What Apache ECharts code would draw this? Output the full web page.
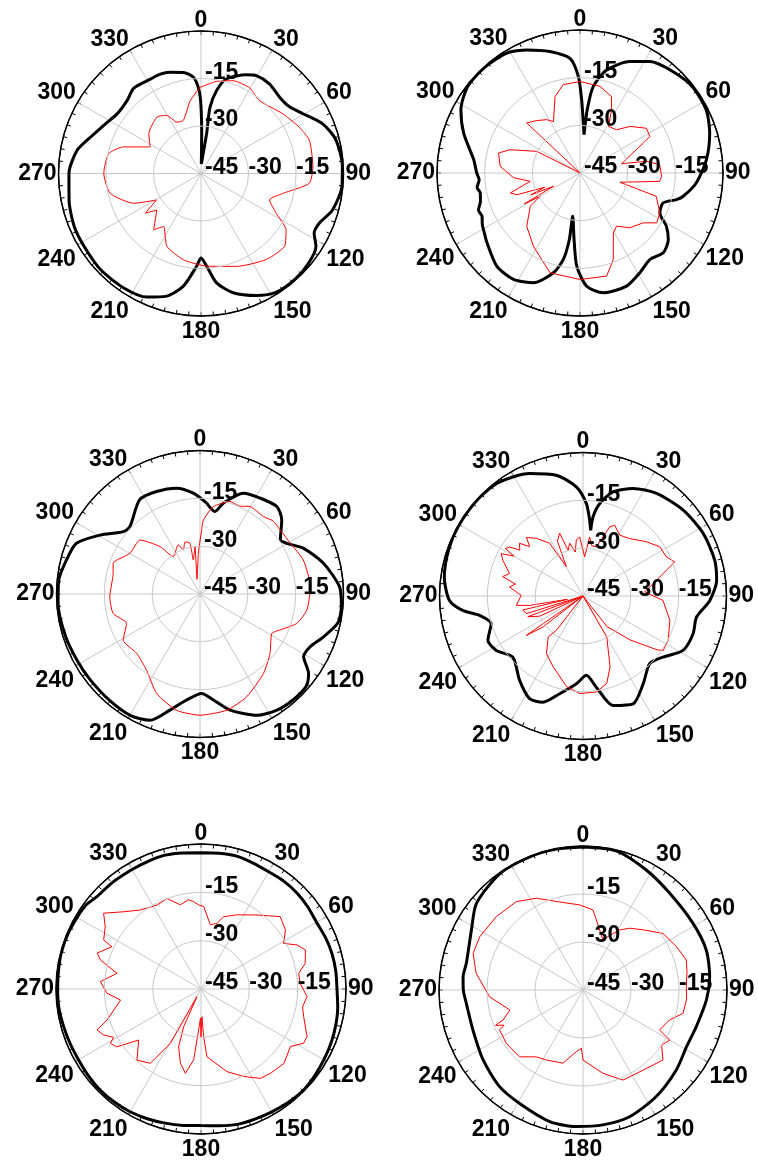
<!DOCTYPE html>
<html>
<head>
    <meta charset="utf-8">
    <title>Radiation patterns</title>
    <script src="https://cdn.jsdelivr.net/npm/echarts@6/dist/echarts.min.js"></script>
    <style>
        html, body { margin: 0; padding: 0; background: #fff; }
        #chart { width: 758px; height: 1163px; }
    </style>
</head>
<body>
<div id="chart"></div>
<script type="text/javascript">
    // each point: [angle in degrees, gain in dB]
    var p1Black = [[2,-42],[8,-32],[7.7,-24],[10.6,-18.4],[15,-14.1],[24.7,-10.7],[29.5,-9.5],[37.5,-9.4],[46,-10.4],[53,-10],[59.6,-7.7],[67.8,-3.5],[76,-1.1],[87,-0.3],[95,-0.3],[105.5,-1.9],[112.8,-4.5],[117.8,-4.6],[122.4,-2],[129.5,-0.8],[138,-0.3],[147.8,-0.6],[155.6,-2.7],[164.9,-6],[171.9,-10.1],[176.5,-15.7],[180,-18.3],[182.7,-15.7],[188.9,-9],[195.6,-4.8],[203.6,-2.4],[214,-1.4],[226.3,-1.1],[238,-1.5],[247.3,-1.6],[258.6,-2.5],[270,-3.3],[280.6,-5.2],[288.3,-8.3],[297.5,-11],[305.4,-12.5],[314.6,-12.2],[321.8,-10.7],[331.8,-11.2],[337.7,-11.1],[343,-11.6],[350,-12.6],[355.5,-14.5],[358.2,-17.8],[359.7,-22],[1,-32.4],[2,-42]];
    var p1Red = [[359.3,-17.8],[9.6,-15.5],[19.1,-14],[29.7,-13.9],[38.8,-15.5],[53.9,-13],[64.8,-10.7],[73,-9.2],[86.6,-9.6],[95.2,-10.7],[103.7,-18.4],[111.1,-21.8],[117.9,-18.1],[123.5,-12.8],[131.1,-10],[142.8,-10.9],[159.1,-13.6],[176.5,-15.7],[191.5,-17.2],[205.1,-19.6],[215.2,-24.5],[220.1,-21.8],[230.4,-26.9],[234.5,-23.4],[239.3,-28.6],[246.1,-21.8],[257.6,-15.7],[270,-14.3],[282.2,-15.2],[289,-19.2],[297.6,-26.9],[307.2,-24.3],[322,-22.4],[329.5,-23.7],[334.8,-27.1],[341.7,-27.3],[351.5,-21.8],[359.3,-17.8]];

    var p2Black = [[6,-32.9],[6.5,-25],[8.7,-17.5],[14.5,-11.5],[24.1,-6.6],[32.1,-3.6],[42.6,-1.7],[52.6,-0.4],[63.4,-0.6],[72.9,-2.3],[84,-5],[94.9,-8.3],[102.7,-11.7],[105.4,-13.5],[109.8,-17.2],[116.6,-16.9],[121.6,-13.1],[127,-10.2],[133.8,-8.7],[141.1,-10],[149,-8.4],[157.6,-6.5],[169,-6.6],[176.6,-9.3],[182,-15.7],[185.1,-24],[189.6,-31.2],[189.1,-23.8],[190.9,-17.3],[194.9,-12.5],[203,-7.5],[212,-5.5],[221.8,-5.7],[233.1,-8.4],[238,-9.5],[242,-10.2],[246.2,-11.3],[250,-11],[254,-12.4],[258.7,-13],[262,-12.3],[266.2,-13.2],[270,-12.5],[277.1,-11.3],[288.9,-6.3],[297.9,-2.6],[307.4,-0.4],[317.8,-0.2],[328.6,-0.8],[336.6,-2.8],[346.1,-5.6],[355,-8.8],[359,-14.6],[1.3,-22],[3.8,-29.3],[6,-32.9]];
    var p2Red = [[0,-16.2],[13,-17],[22.4,-19],[26.6,-22.8],[31.3,-27.8],[40.2,-27.2],[47,-23.5],[56,-19.8],[62.4,-20.2],[64.7,-23],[77.4,-31.6],[80,-23.7],[84,-19.8],[92.3,-19.3],[96,-19.8],[103,-32.1],[107,-19.9],[116.6,-16.9],[123,-16.2],[128.3,-19.7],[137.7,-21.7],[145.5,-24.7],[150.9,-23.4],[159,-15.8],[165.5,-11.5],[180,-11.5],[196.7,-12.2],[212.5,-17.7],[225,-21.3],[236.3,-26.2],[239.7,-30.4],[241,-25],[243.4,-35.7],[246,-28],[248,-33],[251,-24],[254,-22.2],[260.5,-29.1],[266,-24],[274.8,-19.8],[283.8,-18.6],[288.4,-21.8],[296.6,-29.8],[300,-45],[313.2,-22],[320,-23.5],[328,-25.2],[332.7,-26.8],[341.9,-19.7],[349.3,-16.7],[360,-16.2]];

    var p3Black = [[4.2,-16.4],[10.3,-18.7],[14.4,-15.6],[23.3,-10.6],[32.1,-9.5],[41.3,-8.5],[47.8,-10.4],[56,-14.6],[59.7,-13.5],[66.2,-9.5],[76,-5.1],[87,-1.2],[95,-0.5],[101.8,-0.8],[109.1,-4],[115.6,-6.7],[121.2,-7],[126.2,-2.8],[131,-0.9],[138.6,-0.8],[146.5,-1.3],[154.9,-3],[165.5,-7.4],[172.8,-11.5],[179,-13.8],[187.2,-11.5],[194.5,-7.4],[201.6,-2.4],[209.7,-1.1],[220.5,-1.2],[232.6,-1.3],[241.3,-1.2],[252.7,-0.8],[266.3,-0.4],[275.6,-0.5],[284.3,-1.8],[292.3,-3.1],[300.5,-8.6],[309.1,-14],[313.9,-14.5],[327.4,-9.9],[337,-10.1],[347.5,-11],[356.2,-13.3],[4.2,-16.4]];
    var p3Red = [[1.5,-24.9],[2.6,-21.8],[8.7,-17.3],[18,-14.5],[24,-14.8],[29.8,-13.4],[39.3,-13.6],[45,-12.6],[51.3,-12.8],[60.6,-12.5],[71.8,-10.9],[86.2,-10.3],[98.5,-11.1],[106.9,-13.3],[114.2,-17.5],[118.8,-19.3],[130.3,-16.2],[141.4,-13.1],[155.6,-9.6],[167,-7.6],[180,-7],[191.4,-7.8],[203.6,-11],[215,-15.8],[226.9,-17.8],[239,-16.9],[248.2,-20.2],[257.4,-17.1],[268.3,-16.7],[283.4,-17],[289.5,-16.1],[300.2,-19.6],[312,-19.7],[319.8,-25.5],[324.5,-30.6],[336.1,-28.1],[339.3,-30.2],[344,-28],[348.8,-28.8],[348.9,-34.1],[354,-30],[348.4,-40.3],[357.7,-32.2],[1.5,-24.9]];

    var p4Black = [[6.7,-24.3],[7.2,-20],[10.2,-15.6],[16.1,-11],[25,-7.8],[35.6,-5.4],[49.4,-3.6],[62.6,-2.5],[74.8,-2.2],[83.3,-2.8],[92,-5.2],[100.5,-8.8],[108.9,-8.5],[118.5,-9.3],[127.3,-13.4],[135.4,-15.2],[145.6,-11.6],[155.1,-7.7],[164.7,-9.4],[171.7,-16.1],[177.6,-20.1],[184.3,-17.4],[193.4,-13.5],[200.7,-9.4],[207.5,-8.7],[216.9,-11.9],[228.9,-15.8],[237.9,-12.9],[245,-12.1],[253.2,-14.9],[259.4,-12],[263.2,-7],[268.1,-3.1],[277.8,-1.1],[289.7,-0.4],[299.7,-0.2],[312.9,-0.2],[323.2,-0.6],[336.4,-3.1],[347.5,-6.2],[356.5,-10.7],[2.1,-16],[5,-21.1],[6.7,-24.3]];
    var p4Red = [[2.4,-32.7],[6.4,-26.4],[10,-29],[15.1,-29],[21.1,-21.8],[24.1,-20.7],[31.1,-22.7],[39.1,-21.8],[49.5,-18.8],[57.4,-16.4],[64.9,-16.1],[69.6,-14.3],[86.3,-25.6],[93.1,-19.9],[105.7,-16.7],[117.5,-14.9],[124.2,-14.6],[126,-16.3],[133,-24.8],[142,-32.9],[150,-45],[149.8,-30.2],[159.1,-21.2],[164.8,-16.6],[171.9,-14.6],[181.8,-14.4],[190.2,-16.1],[202.8,-20.9],[212.4,-23.6],[220.4,-28.2],[217.8,-31.4],[222,-45],[232.2,-29.1],[235.2,-23.3],[238,-45],[245,-30],[249.4,-26.5],[252,-45],[252.7,-26.4],[256.9,-25.6],[258,-40],[260,-28],[262,-23.9],[270.6,-25.6],[277,-21.8],[280,-23.5],[283.6,-19.1],[287,-20.9],[294,-17.5],[297.4,-16.1],[300,-20],[301.5,-16.5],[303.7,-17.3],[306,-20.5],[309.7,-19.1],[312.8,-22.2],[316,-19.5],[321,-21.7],[327.7,-25.4],[330.4,-34.4],[335,-26],[339.6,-24],[342,-30],[345.8,-27.9],[350,-31],[353.2,-27.3],[356.8,-26.5],[2.4,-32.7]];

    var p5Black = [[0,-2.7],[7.5,-2.5],[15,-2.3],[22.5,-2.7],[30,-3],[37.5,-2.8],[45,-2.9],[52.5,-3.2],[60,-3.6],[67.5,-3.2],[75,-2.9],[82.5,-2.8],[90,-2.8],[97.5,-2.2],[105,-1.7],[112.5,-1.3],[120,-1],[127.5,-0.6],[135,-0.3],[142.5,-0.6],[150,-1],[157.5,-1.3],[165,-1.5],[172.5,-2.2],[180,-2.6],[187.5,-2.3],[195,-1.9],[202.5,-1.4],[210,-1],[217.5,-0.8],[225,-0.7],[232.5,-0.9],[240,-1.1],[247.5,-1],[255,-0.8],[262.5,-0.5],[270,-0.5],[277.5,-0.4],[285,-0.2],[292.5,-0.3],[300,-0.6],[306,-0.8],[311.6,-1.8],[320,-2],[330,-2.2],[337.5,-2.1],[345,-2],[352.5,-2.4],[360,-2.7]];
    var p5Red = [[1.9,-19.4],[8.3,-24.9],[13.7,-24],[17.4,-21.5],[25.9,-19.4],[37.1,-16.2],[47.6,-11.7],[55,-13],[61.1,-15.7],[65.4,-12.2],[69.5,-10.4],[76.2,-11.7],[80.9,-14.3],[86.7,-14.2],[94.1,-12],[100,-13],[105.1,-12],[114.2,-8.9],[117.9,-9],[122.8,-12],[131.9,-10.4],[140.6,-11.1],[146.4,-11.7],[154,-14.8],[162.5,-18.1],[175,-23.9],[176.8,-30.2],[178,-36.4],[180,-30],[181,-36],[183.3,-32.3],[185.9,-22.9],[190.5,-18.4],[195.5,-21.1],[201.2,-25.8],[204.7,-32.2],[207.6,-42.3],[209.4,-25.6],[214.3,-17.1],[222,-15.3],[230.7,-20],[235.5,-13.3],[239.1,-12.2],[241,-14],[244.7,-11.6],[248.5,-10.3],[251.7,-14.3],[262.2,-19.8],[267.4,-15.8],[274.2,-13.7],[280.6,-18.5],[286.1,-12.5],[289.1,-10.9],[295.4,-14.4],[296.7,-11.2],[303.1,-9.5],[307.9,-6.7],[315,-11.1],[322.5,-14.1],[332.4,-15.6],[339.4,-15],[346.2,-18.1],[352,-17],[355.2,-17.8],[358.4,-18.9],[1.9,-19.4]];

    var p6Black = [[0,-0.3],[13.4,-0.3],[27.8,-2.6],[41.9,-4.4],[58.8,-4.8],[72,-4.5],[84,-5.2],[94.6,-6.3],[108,-7.8],[118.7,-8.1],[130.6,-6.6],[145.5,-4.6],[159.8,-2.8],[171.6,-2.4],[182.8,-2.3],[194.2,-2.6],[209.2,-4.4],[220.8,-5.1],[235,-6.9],[250,-8.4],[263.5,-8.3],[270,-7.6],[276.3,-7.3],[282.9,-7.6],[298.3,-5.4],[309.1,-2.1],[324.5,-0.3],[338.2,-0.2],[349.3,-0.2],[360,-0.3]];
    var p6Red = [[357.8,-18.4],[7.1,-19.8],[10.8,-22.7],[21.8,-28.2],[26,-26],[31.4,-23],[37.1,-20.8],[45,-18.4],[54.7,-14.4],[65.1,-12.8],[73.8,-11.4],[80,-12],[88.2,-12.7],[95,-12.5],[103.1,-12.9],[109.1,-16.4],[117.6,-18],[120,-13.7],[125,-15],[131.2,-11.8],[143.1,-13.7],[156,-14.2],[166.5,-18.2],[180,-23.1],[181.6,-26.8],[186.2,-25.6],[195.3,-21.3],[207.6,-20.3],[215,-19.5],[223.5,-16.2],[235.2,-15.8],[244.4,-16.1],[246,-18],[248,-15.5],[249.4,-18.3],[254.7,-21.3],[265.9,-15.7],[278.9,-11.2],[288.4,-8.8],[297.3,-8.7],[310.2,-9.5],[322.9,-10.4],[333,-12.8],[343.2,-16.1],[357.8,-18.4]];

    var blackSets = [p1Black, p2Black, p3Black, p4Black, p5Black, p6Black];
    var redSets = [p1Red, p2Red, p3Red, p4Red, p5Red, p6Red];

    var centers = [[201, 173.5], [580, 173], [200, 594], [583, 596], [201, 989], [583, 990]];
    var radii = [142.5, 143, 143.5, 143.5, 145, 144];

    function toPolar(pairs) {
        return pairs.map(function (p) {
            return [Math.max(-45, Math.min(0, p[1])), p[0]];
        });
    }

    var font = {fontFamily: 'Liberation Sans', fontWeight: 'bold', fontSize: 23, color: '#000'};
    var grey = '#c8c8c8';
    var polar = [], angleAxis = [], radiusAxis = [], series = [];

    centers.forEach(function (c, i) {
        polar.push({center: c, radius: radii[i]});
        polar.push({center: c, radius: radii[i]});

        angleAxis.push({
            polarIndex: 2 * i, type: 'value', min: 0, max: 360, interval: 30,
            startAngle: 90, clockwise: true,
            axisLine: {lineStyle: {color: '#000', width: 1.5}},
            axisTick: {inside: true, length: 4, lineStyle: {color: '#000', width: 1}},
            minorTick: {show: true, splitNumber: 6, length: 4, lineStyle: {color: '#000', width: 1}},
            splitLine: {show: true, lineStyle: {color: grey, width: 1}},
            axisLabel: Object.assign({margin: 2, lineHeight: 17, padding: [5, 0, 0, 0],
                formatter: function (v) { return v === 360 ? '' : String(v); }}, font)
        });
        angleAxis.push({polarIndex: 2 * i + 1, type: 'value', min: 0, max: 360, startAngle: 0, show: false});

        radiusAxis.push({
            polarIndex: 2 * i, type: 'value', min: -45, max: 0, interval: 15,
            axisLine: {show: false}, axisTick: {show: false},
            splitLine: {show: true, lineStyle: {color: [grey, grey, grey, '#000'], width: 1}},
            axisLabel: Object.assign({margin: -4, lineHeight: 12, align: 'left', verticalAlign: 'bottom',
                formatter: function (v) { return v === 0 ? '' : String(v); }}, font),
            z: 5
        });
        radiusAxis.push({
            polarIndex: 2 * i + 1, type: 'value', min: -45, max: 0, interval: 15,
            axisLine: {show: false}, axisTick: {show: false}, splitLine: {show: false},
            axisLabel: Object.assign({margin: 0, lineHeight: 12, align: 'left', verticalAlign: 'bottom',
                formatter: function (v) { return (v === -30 || v === -15) ? String(v) : ''; }}, font),
            z: 5
        });

        series.push({
            type: 'line', coordinateSystem: 'polar', polarIndex: 2 * i,
            data: toPolar(blackSets[i]), showSymbol: false, smooth: 0.25,
            lineStyle: {color: '#000', width: 3}, z: 3, silent: true
        });
        series.push({
            type: 'line', coordinateSystem: 'polar', polarIndex: 2 * i,
            data: toPolar(redSets[i]), showSymbol: false, smooth: (i === 0 || i === 2) ? 0.2 : 0,
            lineStyle: {color: '#ff0000', width: 1}, z: 4, silent: true
        });
    });

    var myChart = echarts.init(document.getElementById('chart'));
    myChart.setOption({
        backgroundColor: '#fff',
        animation: false,
        polar: polar,
        angleAxis: angleAxis,
        radiusAxis: radiusAxis,
        series: series
    });
</script>
</body>
</html>
